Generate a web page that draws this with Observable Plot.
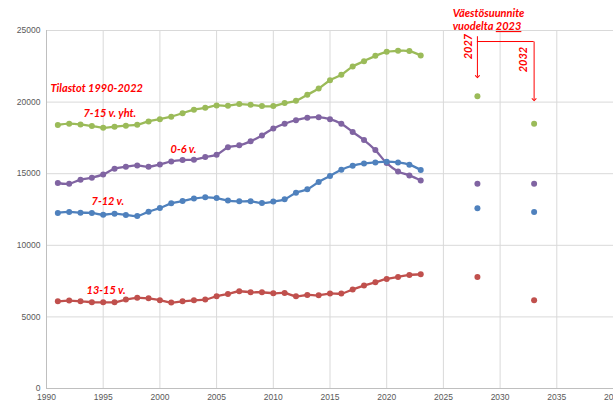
<!DOCTYPE html>
<html><head><meta charset="utf-8">
<script src="https://cdn.jsdelivr.net/npm/d3@7"></script>
<script src="https://cdn.jsdelivr.net/npm/@observablehq/plot@0.6"></script>
<style>body{margin:0;background:#fff}</style>
</head><body><div id="chart"></div>
<script>
const years = [1991,1992,1993,1994,1995,1996,1997,1998,1999,2000,2001,2002,2003,2004,2005,2006,2007,2008,2009,2010,2011,2012,2013,2014,2015,2016,2017,2018,2019,2020,2021,2022,2023];
const seriesNames = ["7-15 v. yht.", "0-6 v.", "7-12 v.", "13-15 v."];
const total = [18400,18490,18440,18330,18210,18280,18350,18420,18650,18810,18980,19230,19470,19600,19770,19740,19860,19810,19720,19720,19930,20090,20510,20950,21530,21910,22490,22860,23230,23510,23580,23560,23260];
const age0_6 = [14350,14300,14580,14720,14950,15350,15490,15580,15490,15650,15860,15950,15980,16160,16330,16840,16980,17260,17670,18160,18490,18740,18910,18950,18810,18490,17910,17350,16650,15740,15160,14880,14530];
const age7_12 = [12260,12330,12280,12260,12140,12210,12120,12050,12350,12600,12930,13090,13260,13350,13300,13120,13070,13070,12950,13050,13210,13670,13910,14420,14840,15280,15560,15720,15790,15840,15790,15630,15260];
const age13_15 = [6090,6140,6090,6020,6020,6020,6210,6330,6300,6160,6000,6090,6160,6210,6440,6600,6790,6720,6720,6650,6670,6440,6530,6510,6630,6630,6910,7190,7420,7650,7790,7930,7980];
const projYears = [2028, 2033];
const projTotal = [20400, 18490];
const proj0_6 = [14300, 14300];
const proj7_12 = [12580, 12330];
const proj13_15 = [7790, 6160];
const xTicks = [1990,1995,2000,2005,2010,2015,2020,2025,2030,2035,2040];
const yTicks = [0,5000,10000,15000,20000,25000];

const colors = ["#9BBB59", "#8064A2", "#4F81BD", "#C0504D"];
const histSeries = [total, age0_6, age7_12, age13_15];
const projSeries = [projTotal, proj0_6, proj7_12, proj13_15];
const rows = [];
histSeries.forEach((vals, i) => vals.forEach((v, j) => rows.push({series: seriesNames[i], year: years[j], value: v})));
const projRows = [];
projSeries.forEach((vals, i) => vals.forEach((v, j) => projRows.push({series: seriesNames[i], year: projYears[j], value: v})));

const red = "#FF0000";
const lab = {fill: red, fontWeight: "bold", fontStyle: "italic", fontSize: 11, fontFamily: "Lato", textAnchor: "start"};

const chart = Plot.plot({
  width: 613, height: 402,
  marginLeft: 46, marginRight: 0, marginTop: 30, marginBottom: 14,
  style: {fontFamily: "Liberation Sans, Arial, sans-serif", fontSize: "8.5px", background: "#fff"},
  x: {domain: [1990, 2040], label: null},
  y: {domain: [0, 25000], label: null},
  color: {domain: seriesNames, range: colors},
  marks: [
    Plot.gridX(xTicks, {stroke: "#d9d9d9", strokeOpacity: 1}),
    Plot.gridY(yTicks, {stroke: "#d9d9d9", strokeOpacity: 1}),
    Plot.ruleX([1990], {stroke: "#bfbfbf"}),
    Plot.ruleY([0], {stroke: "#bfbfbf"}),
    Plot.axisX({ticks: xTicks, tickSize: 0, tickPadding: 5, tickFormat: d => String(d), fill: "#595959", label: null}),
    Plot.axisY({ticks: yTicks, tickSize: 0, tickPadding: 6, tickFormat: d => String(d), fill: "#595959", label: null}),
    Plot.line(rows, {x: "year", y: "value", z: "series", stroke: "series", strokeWidth: 2.3, curve: "catmull-rom"}),
    Plot.dot(rows, {x: "year", y: "value", fill: "series", r: 3}),
    Plot.dot(projRows, {x: "year", y: "value", fill: "series", r: 3}),
    Plot.text(["Tilastot 1990-2022"], {x: 1990.35, y: 20950, text: d => d, ...lab}),
    Plot.text(["7-15 v. yht."], {x: 1993.26, y: 19210, text: d => d, ...lab}),
    Plot.text(["0-6 v."], {x: 2000.94, y: 16700, text: d => d, ...lab}),
    Plot.text(["7-12 v."], {x: 1993.97, y: 13070, text: d => d, ...lab}),
    Plot.text(["13-15 v."], {x: 1993.53, y: 6860, text: d => d, ...lab}),
    Plot.text(["Väestösuunnite"], {x: 2025.82, y: 26190, text: d => d, ...lab}),
    Plot.text(["vuodelta 2023"], {x: 2025.82, y: 25280, text: d => d, ...lab}),
    Plot.text(["2027"], {x: 2027.2, y: 23880, text: d => d, rotate: -90, ...lab, textAnchor: "middle"}),
    Plot.text(["2032"], {x: 2032.1, y: 22970, text: d => d, rotate: -90, ...lab, textAnchor: "middle"}),
    Plot.link([0], {x1: 2028, y1: 24600, x2: 2028, y2: 21780, stroke: red, strokeWidth: 1, markerEnd: "arrow"}),
    Plot.ruleY([24230], {x1: 2028, x2: 2033, stroke: red, strokeWidth: 1}),
    Plot.link([0], {x1: 2033, y1: 24230, x2: 2033, y2: 20170, stroke: red, strokeWidth: 1, markerEnd: "arrow"})
  ]
});
// underline "2023" in the annotation
chart.querySelectorAll("text").forEach(t => {
  if (t.textContent === "vuodelta 2023") {
    t.textContent = "vuodelta ";
    const ts = document.createElementNS("http://www.w3.org/2000/svg", "tspan");
    ts.textContent = "2023";
    ts.setAttribute("text-decoration", "underline");
    ts.setAttribute("fill", red);
    ts.setAttribute("stroke", "none");
    t.appendChild(ts);
  }
});
document.getElementById("chart").appendChild(chart);
</script>
</body></html>
